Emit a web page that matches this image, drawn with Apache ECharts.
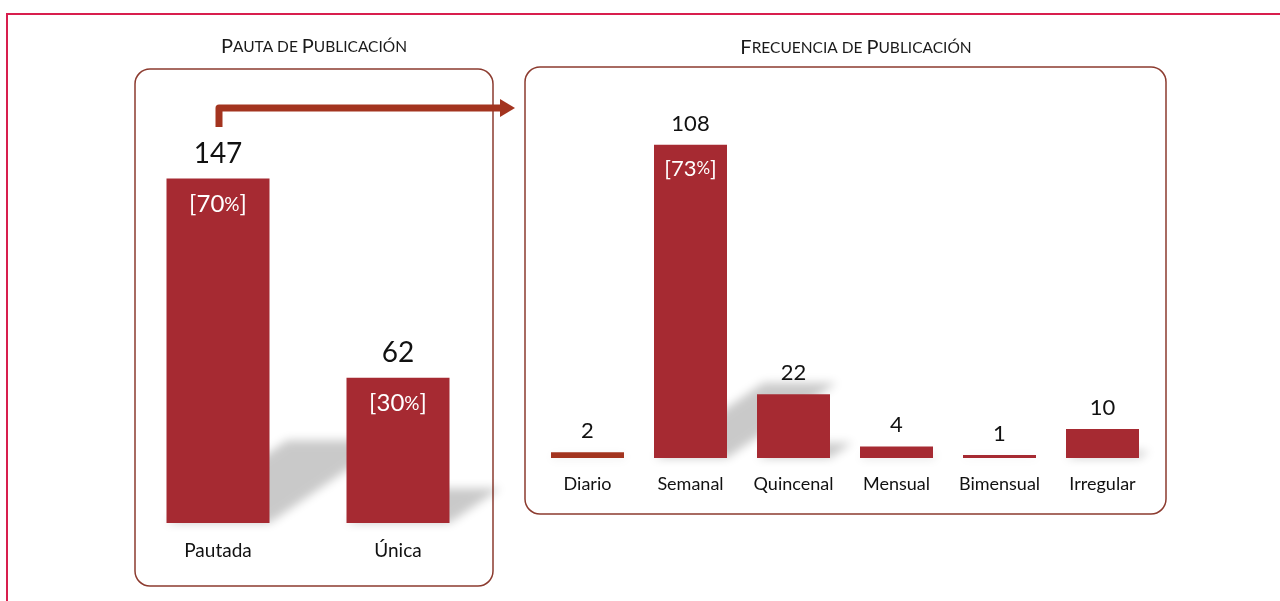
<!DOCTYPE html>
<html>
<head>
<meta charset="utf-8">
<script src="https://cdn.jsdelivr.net/npm/echarts@6/dist/echarts.min.js"></script>
<style>
  html, body { margin: 0; padding: 0; background: #fff; }
  #main { width: 1280px; height: 601px; }
</style>
</head>
<body>
<div id="main"></div>
<script>
// datos
var pautaCats = ['Pautada', 'Única'];
var pautaVals = [147, 62];
var pautaPct = ['70', '30'];

var frecCats = ['Diario', 'Semanal', 'Quincenal', 'Mensual', 'Bimensual', 'Irregular'];
var frecVals = [2, 108, 22, 4, 1, 10];
var frecPct = ['', '73', '', '', '', ''];

var rojo = '#A62A32';
var oxido = '#A3341F';
var FONT = 'Lato, "Open Sans", sans-serif';
var LEJOS = 3000; // la forma se dibuja fuera y sólo se ve su sombra difusa

var myChart = echarts.init(document.getElementById('main'));

// sombra en perspectiva detrás de cada barra
function sombra(barW) {
    return function (params, api) {
        var base = api.coord([api.value(0), 0]);
        var top = api.coord([api.value(0), api.value(1)]);
        var h = base[1] - top[1];
        var x0 = base[0] - barW / 2 - LEJOS, x1 = base[0] + barW / 2 - LEJOS;
        var dx = h * 0.35, dy = h * 0.24;
        return {
            type: 'polygon',
            shape: { points: [[x0, base[1]], [x1, base[1]], [x1 + dx, base[1] - dy], [x0 + dx, base[1] - dy]] },
            style: { fill: '#000', shadowBlur: 10, shadowColor: 'rgba(0,0,0,0.21)', shadowOffsetX: LEJOS }
        };
    };
}

function pares(vals) {
    return vals.map(function (v, i) { return [i, v]; });
}

var option = {
    animation: false,
    textStyle: { fontFamily: FONT },
    grid: [
        { left: 128, width: 360, top: 148, height: 375 },
        { left: 536, width: 618, top: 110, height: 348 }
    ],
    xAxis: [
        { gridIndex: 0, type: 'category', data: pautaCats, axisLine: { show: false }, axisTick: { show: false },
          axisLabel: { interval: 0, fontSize: 19, color: '#111', margin: 18, fontFamily: FONT } },
        { gridIndex: 1, type: 'category', data: frecCats, axisLine: { show: false }, axisTick: { show: false },
          axisLabel: { interval: 0, hideOverlap: false, fontSize: 18, color: '#111', margin: 17, fontFamily: FONT } }
    ],
    yAxis: [
        { gridIndex: 0, type: 'value', min: 0, max: 160, show: false, splitLine: { show: false } },
        { gridIndex: 1, type: 'value', min: 0, max: 120, show: false, splitLine: { show: false } }
    ],
    series: [
        { type: 'custom', xAxisIndex: 0, yAxisIndex: 0, z: 1, renderItem: sombra(103), data: pares(pautaVals), silent: true },
        { type: 'custom', xAxisIndex: 1, yAxisIndex: 1, z: 1, renderItem: sombra(73), data: pares(frecVals), silent: true },
        {
            type: 'bar', xAxisIndex: 0, yAxisIndex: 0, z: 2, barWidth: 103, data: pautaVals,
            itemStyle: { color: rojo },
            label: { show: true, position: 'top', distance: 11, fontSize: 28, color: '#111', fontFamily: FONT }
        },
        {
            type: 'bar', xAxisIndex: 0, yAxisIndex: 0, z: 3, barWidth: 103, barGap: '-100%', data: pautaVals,
            itemStyle: { color: 'transparent' },
            label: {
                show: true, position: 'insideTop', distance: 14,
                formatter: function (p) { return '{a|[' + pautaPct[p.dataIndex] + '}{b|%}{a|]}'; },
                rich: {
                    a: { fontSize: 24, color: '#fff', fontFamily: FONT },
                    b: { fontSize: 19, color: '#fff', fontFamily: FONT }
                }
            }
        },
        {
            type: 'bar', xAxisIndex: 1, yAxisIndex: 1, z: 2, barWidth: 73,
            data: frecVals.map(function (v, i) { return i === 0 ? { value: v, itemStyle: { color: oxido } } : v; }),
            itemStyle: { color: rojo },
            label: { show: true, position: 'top', distance: 10, fontSize: 22, color: '#111', fontFamily: FONT }
        },
        {
            type: 'bar', xAxisIndex: 1, yAxisIndex: 1, z: 3, barWidth: 73, barGap: '-100%', data: frecVals,
            itemStyle: { color: 'transparent' },
            label: {
                show: true, position: 'insideTop', distance: 13,
                formatter: function (p) {
                    var t = frecPct[p.dataIndex];
                    return t ? '{a|[' + t + '}{b|%}{a|]}' : '';
                },
                rich: {
                    a: { fontSize: 22, color: '#fff', fontFamily: FONT },
                    b: { fontSize: 17, color: '#fff', fontFamily: FONT }
                }
            }
        }
    ],
    graphic: [
        { type: 'rect', z: 0, shape: { x: 7, y: 14, width: 1400, height: 800 },
          style: { fill: 'none', stroke: '#D81E4E', lineWidth: 2 } },
        { type: 'rect', z: 0, shape: { x: 135, y: 69, width: 358, height: 517, r: 15 },
          style: { fill: 'none', stroke: '#8C3B2F', lineWidth: 1.5 } },
        { type: 'rect', z: 0, shape: { x: 525, y: 67, width: 641, height: 447, r: 15 },
          style: { fill: 'none', stroke: '#8C3B2F', lineWidth: 1.5 } },
        { type: 'text', x: 314, y: 47, style: {
            text: '{b|P}{s|AUTA DE }{b|P}{s|UBLICACIÓN}', textAlign: 'center', textVerticalAlign: 'middle',
            rich: { b: { fontSize: 20, fill: '#1a1a1a', fontFamily: FONT }, s: { fontSize: 15.5, fill: '#1a1a1a', fontFamily: FONT } }
        } },
        { type: 'text', x: 856, y: 48, style: {
            text: '{b|F}{s|RECUENCIA DE }{b|P}{s|UBLICACIÓN}', textAlign: 'center', textVerticalAlign: 'middle',
            rich: { b: { fontSize: 20, fill: '#1a1a1a', fontFamily: FONT }, s: { fontSize: 15.5, fill: '#1a1a1a', fontFamily: FONT } }
        } },
        // flecha
        { type: 'polyline', z: 10, shape: { points: [[219, 127], [219, 108], [502, 108]] },
          style: { fill: 'none', stroke: oxido, lineWidth: 7, lineJoin: 'round' } },
        { type: 'polygon', z: 10, shape: { points: [[500, 99], [515, 108], [500, 117]] },
          style: { fill: oxido } }
    ]
};

myChart.setOption(option);
</script>
</body>
</html>
